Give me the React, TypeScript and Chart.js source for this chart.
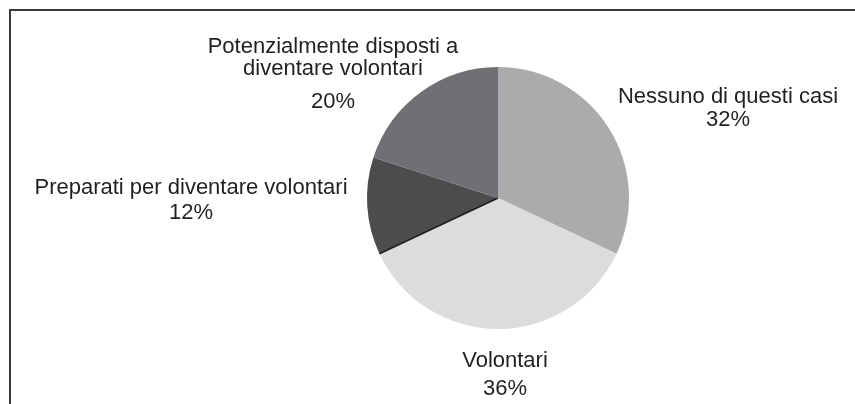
import React, { useEffect, useRef } from "react";
import { Chart, registerables } from "chart.js";

Chart.register(...registerables);

const categories = [
  "Nessuno di questi casi",
  "Volontari",
  "Preparati per diventare volontari",
  "Potenzialmente disposti a diventare volontari",
];
const values = [32, 36, 12, 20];
const sliceColors = ["#aaabad", "#dcdcde", "#4b4c4e", "#6f7073"];

// label text lines (category name wrapped, then percentage)
const labelLines = [
  ["Nessuno di questi casi"],
  ["Volontari"],
  ["Preparati per diventare volontari"],
  ["Potenzialmente disposti a", "diventare volontari"],
];

// label placement relative to pie centre: dx, baselines of each line (last = percentage)
const labelLayout = [
  { dx: 230, dys: [-95, -72] },
  { dx: 7, dys: [169, 197] },
  { dx: -307, dys: [-4, 21] },
  { dx: -165, dys: [-145, -123, -90] },
];

const labelPlugin = {
  id: "pieLabels",
  beforeDraw(chart: any) {
    const ctx = chart.ctx;
    ctx.save();
    ctx.strokeStyle = "#3a3a3a";
    ctx.lineWidth = 2;
    ctx.beginPath();
    ctx.moveTo(10, chart.height);
    ctx.lineTo(10, 10);
    ctx.lineTo(chart.width, 10);
    ctx.stroke();
    ctx.restore();
  },
  afterDatasetsDraw(chart: any) {
    // dark edge where the "Preparati" slice begins
    const ctx = chart.ctx;
    const arc = chart.getDatasetMeta(0).data[2];
    const { x, y, startAngle, outerRadius } = arc.getProps(["x", "y", "startAngle", "outerRadius"], true);
    ctx.save();
    ctx.strokeStyle = "#1e1e1e";
    ctx.lineWidth = 1.5;
    ctx.beginPath();
    ctx.moveTo(x, y);
    ctx.lineTo(x + Math.cos(startAngle) * outerRadius, y + Math.sin(startAngle) * outerRadius);
    ctx.stroke();
    ctx.restore();
  },
  afterDraw(chart: any) {
    const ctx = chart.ctx;
    const meta = chart.getDatasetMeta(0);
    const total = values.reduce((a, b) => a + b, 0);
    ctx.save();
    ctx.fillStyle = "#231f20";
    ctx.font = "22px 'Liberation Sans', Arial, sans-serif";
    ctx.textAlign = "center";
    ctx.textBaseline = "alphabetic";
    meta.data.forEach((arc: any, i: number) => {
      const { x, y } = arc.getProps(["x", "y"], true);
      const lines = [...labelLines[i], Math.round((values[i] / total) * 100) + "%"];
      const lay = labelLayout[i];
      lines.forEach((t, j) => {
        ctx.fillText(t, x + lay.dx, y + lay.dys[j]);
      });
    });
    ctx.restore();
  },
};

export default function App() {
  const ref = useRef<HTMLCanvasElement | null>(null);
  useEffect(() => {
    if (!ref.current) return;
    const chart = new Chart(ref.current, {
      type: "pie",
      data: {
        labels: categories,
        datasets: [
          {
            data: values,
            backgroundColor: sliceColors,
            borderWidth: 0,
          },
        ],
      },
      options: {
        animation: false,
        responsive: false,
        maintainAspectRatio: false,
        rotation: 0,
        layout: { padding: { left: 367, right: 226, top: 67, bottom: 75 } },
        plugins: {
          legend: { display: false },
          tooltip: { enabled: false },
        },
      },
      plugins: [labelPlugin],
    });
    return () => chart.destroy();
  }, []);
  return (
    <div style={{ position: "absolute", left: 0, top: 0, width: 855, height: 404, background: "#fff" }}>
      <canvas ref={ref} width={855} height={404} style={{ display: "block" }} />
    </div>
  );
}
